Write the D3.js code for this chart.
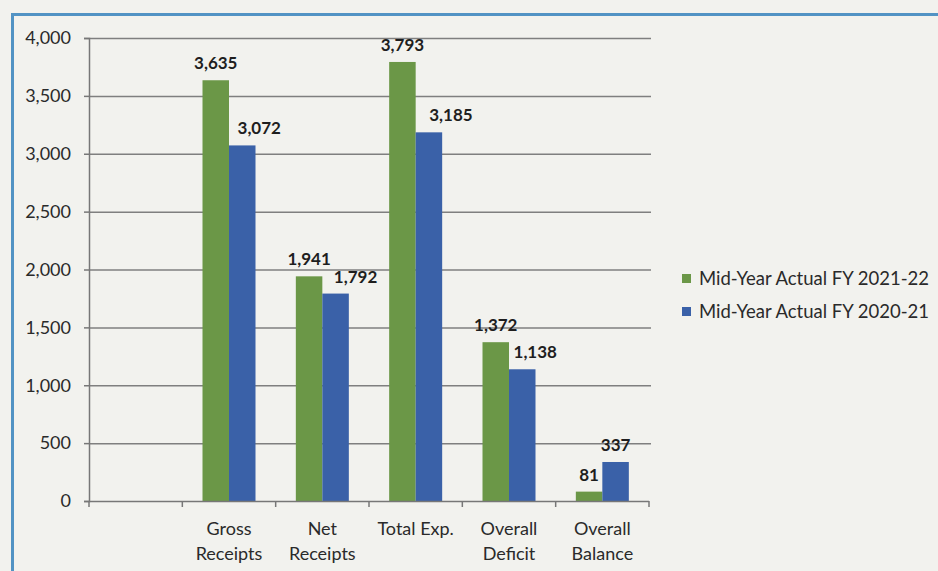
<!DOCTYPE html>
<html>
<head>
<meta charset="utf-8">
<script src="https://cdn.jsdelivr.net/npm/d3@7"></script>
<style>
  html, body { margin: 0; padding: 0; background: #f2f2ee; }
  svg { display: block; }
</style>
</head>
<body>
<svg id="chart" width="938" height="571"></svg>
<script>
// Categories (the first slot is an empty placeholder on the axis)
const categories = ["", "Gross Receipts", "Net Receipts", "Total Exp.", "Overall Deficit", "Overall Balance"];
const categoryLines = [[""], ["Gross", "Receipts"], ["Net", "Receipts"], ["Total Exp."], ["Overall", "Deficit"], ["Overall", "Balance"]];

// Series values
const seriesNames = ["Mid-Year Actual FY 2021-22", "Mid-Year Actual FY 2020-21"];
const fy2122 = [null, 3635, 1941, 3793, 1372, 81];
const fy2021 = [null, 3072, 1792, 3185, 1138, 337];

// Value axis ticks
const yTicks = [0, 500, 1000, 1500, 2000, 2500, 3000, 3500, 4000];

// Horizontal nudges for the second series' value labels
const labelShift2 = [0, 17, 20, 22, 13, 0];

const colors = ["#6b9747", "#3a61a8"];

const svg = d3.select("#chart");
const W = 938, H = 571;

// Outer frame
svg.append("line").attr("x1", 12).attr("x2", W).attr("y1", 14.5).attr("y2", 14.5)
  .attr("stroke", "#5293c4").attr("stroke-width", 3);
svg.append("line").attr("x1", 12.5).attr("x2", 12.5).attr("y1", 13).attr("y2", H)
  .attr("stroke", "#5293c4").attr("stroke-width", 3);

const plotLeft = 89, plotRight = 649, plotTop = 38, plotBottom = 501;

const x = d3.scaleBand().domain(categories.map((c, i) => i)).range([plotLeft, plotRight]).paddingInner(0).paddingOuter(0);
const barW = 26.5;
const xs = d3.scaleBand().domain([0, 1]).range([0, barW * 2]);
const y = d3.scaleLinear().domain([0, 4000]).range([plotBottom, plotTop]);

const font = "Lato, 'Open Sans', sans-serif";
const fs = 18;

// Gridlines
svg.append("g").selectAll("line").data(yTicks.filter(t => t > 0)).join("line")
  .attr("x1", plotLeft).attr("x2", plotRight + 2)
  .attr("y1", d => y(d) + 0.5).attr("y2", d => y(d) + 0.5)
  .attr("stroke", "#7f7f7f").attr("stroke-width", 1.5);

// Y axis
const yAxis = svg.append("g").attr("transform", `translate(${plotLeft},0)`)
  .call(d3.axisLeft(y).tickValues(yTicks).tickFormat(d3.format(",")).tickSize(5).tickPadding(13));
yAxis.select(".domain").attr("stroke", "#777").attr("stroke-width", 1.5);
yAxis.selectAll(".tick line").attr("stroke", "#777").attr("stroke-width", 1.5);
yAxis.selectAll("text").attr("font-family", font).attr("font-size", fs).attr("fill", "#2a2a2a");

// Bars
const pairs = categories.map((c, i) => ({ i, vals: [fy2122[i], fy2021[i]] }));
const groups = svg.append("g").selectAll("g").data(pairs).join("g")
  .attr("transform", d => `translate(${x(d.i) + x.bandwidth() / 2 - barW},0)`);

groups.selectAll("rect").data(d => d.vals.map((v, s) => ({ v, s })).filter(e => e.v != null)).join("rect")
  .attr("x", e => xs(e.s))
  .attr("width", xs.bandwidth())
  .attr("y", e => y(e.v))
  .attr("height", e => y(0) - y(e.v))
  .attr("fill", e => colors[e.s]);

// Value labels
groups.each(function (d) {
  d3.select(this).selectAll("text").data(d.vals.map((v, s) => ({ v, s })).filter(e => e.v != null)).join("text")
    .attr("x", e => xs(e.s) + xs.bandwidth() / 2 + (e.s === 1 ? labelShift2[d.i] : 0))
    .attr("y", e => y(e.v) - 11)
    .attr("text-anchor", "middle")
    .attr("font-family", font).attr("font-weight", "bold").attr("font-size", 17)
    .attr("fill", "#1e1e1e")
    .text(e => d3.format(",")(e.v));
});

// X axis
const xAxisG = svg.append("g");
xAxisG.append("line").attr("x1", plotLeft).attr("x2", plotRight).attr("y1", plotBottom + 0.5).attr("y2", plotBottom + 0.5)
  .attr("stroke", "#777").attr("stroke-width", 1.5);
const edges = categories.map((c, i) => x(i)).concat([plotRight]);
xAxisG.selectAll("line.tk").data(edges).join("line").attr("class", "tk")
  .attr("x1", d => d).attr("x2", d => d).attr("y1", plotBottom).attr("y2", plotBottom + 6)
  .attr("stroke", "#777").attr("stroke-width", 1.5);

xAxisG.selectAll("text.cat").data(categoryLines.map((lines, i) => ({ lines, i }))).join("text")
  .attr("class", "cat")
  .attr("text-anchor", "middle")
  .attr("font-family", font).attr("font-size", fs).attr("fill", "#2a2a2a")
  .each(function (d) {
    const t = d3.select(this);
    d.lines.forEach((ln, k) => {
      t.append("tspan").attr("x", x(d.i) + x.bandwidth() / 2).attr("y", 535 + k * 25).text(ln);
    });
  });

// Legend
const legend = svg.append("g").attr("transform", "translate(682,274)");
seriesNames.forEach((name, s) => {
  const g = legend.append("g").attr("transform", `translate(0,${s * 33})`);
  g.append("rect").attr("width", 9).attr("height", 9).attr("fill", colors[s]);
  g.append("text").attr("x", 17).attr("y", 11).attr("font-family", font).attr("font-size", 18.5)
    .attr("fill", "#2a2a2a").text(name);
});
</script>
</body>
</html>
